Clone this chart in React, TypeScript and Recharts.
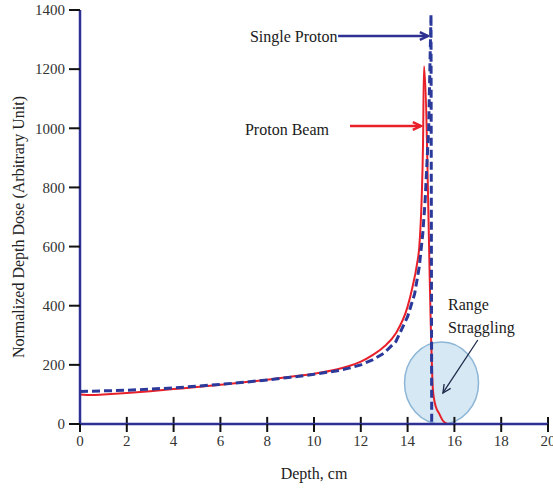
import { LineChart, Line, XAxis, YAxis, ReferenceDot, ReferenceLine, Label } from 'recharts';

// Proton Beam (red, solid)
const beamDepth = [0, 0.5, 1, 2, 3, 4, 5, 6, 7, 8, 9, 10, 11, 11.5, 12, 12.5, 13, 13.5, 14, 14.2, 14.4, 14.5, 14.6, 14.66, 14.7, 15.02, 15.07, 15.12, 15.2, 15.35, 15.5, 15.7];
const beamDose = [100, 98, 100, 105, 111, 118, 125, 133, 141, 150, 160, 170, 185, 196, 211, 233, 262, 307, 397, 460, 540, 600, 760, 950, 1210, 250, 130, 90, 60, 35, 12, 0];

// Single Proton (blue, dashed)
const singleDepth = [0, 1, 2, 3, 4, 5, 6, 7, 8, 9, 10, 11, 11.5, 12, 12.5, 13, 13.5, 14, 14.3, 14.5, 14.65, 14.75, 14.9, 15.0, 15.03];
const singleDose = [110, 112, 114, 118, 122, 128, 134, 141, 149, 158, 168, 180, 189, 200, 217, 240, 279, 363, 440, 532, 645, 757, 1000, 1385, 0];

const xTicks = [0, 2, 4, 6, 8, 10, 12, 14, 16, 18, 20];
const yTicks = [0, 200, 400, 600, 800, 1000, 1200, 1400];

const beamData = beamDepth.map((d, i) => ({ depth: d, dose: beamDose[i] }));
const singleData = singleDepth.map((d, i) => ({ depth: d, dose: singleDose[i] }));

const NAVY = '#2e3192';
const RED = '#e8202a';
const BLUE = '#2b3a9a';
const FONT = '"Liberation Serif", "DejaVu Serif", serif';

function arrowShape(color: string, width: number) {
  return (props: any) => {
    const { x1, y1, x2, y2 } = props;
    const a = Math.atan2(y2 - y1, x2 - x1);
    const h = 9;
    const p1 = [x2 - h * Math.cos(a - 0.45), y2 - h * Math.sin(a - 0.45)];
    const p2 = [x2 - h * Math.cos(a + 0.45), y2 - h * Math.sin(a + 0.45)];
    return (
      <g>
        <line x1={x1} y1={y1} x2={x2} y2={y2} stroke={color} strokeWidth={width} />
        <polyline points={`${p1[0]},${p1[1]} ${x2},${y2} ${p2[0]},${p2[1]}`} fill="none" stroke={color} strokeWidth={width} />
      </g>
    );
  };
}

function note(lines: string[]) {
  return (props: any) => {
    const { cx, cy } = props;
    return (
      <text x={cx} y={cy} fontSize={16} fill="#1a1a1a" fontFamily={FONT}>
        {lines.map((t, i) => (
          <tspan key={i} x={cx} dy={i === 0 ? 0 : 23}>{t}</tspan>
        ))}
      </text>
    );
  };
}

function Ellipse(props: any) {
  const { cx, cy } = props;
  if (cx == null || cy == null) return null;
  return <ellipse cx={cx} cy={cy} rx={37} ry={41} fill="#d5e8f4" stroke="#8db6d6" strokeWidth={1.5} />;
}

function YTitle(props: any) {
  const { viewBox } = props;
  const cy = viewBox.y + viewBox.height / 2 + 10;
  return (
    <text x={18} y={cy} transform={`rotate(-90, 18, ${cy})`} textAnchor="middle" dominantBaseline="central" fontSize={16} fill="#222" fontFamily={FONT}>
      Normalized Depth Dose (Arbitrary Unit)
    </text>
  );
}

export default function App() {
  return (
    <div style={{ position: 'absolute', left: 0, top: 0, background: '#fff' }}>
      <LineChart width={553} height={491} margin={{ top: 10, right: 5, bottom: 0, left: 0 }}>
        <XAxis
          dataKey="depth"
          type="number"
          domain={[0, 20]}
          ticks={xTicks}
          interval={0}
          allowDataOverflow
          tickLine={{ stroke: '#111', strokeWidth: 2 }}
          tickSize={8}
          tickMargin={3}
          tick={{ fontSize: 15, fill: '#333', fontFamily: FONT }}
          axisLine={{ stroke: NAVY, strokeWidth: 2.5 }}
          height={67}
        >
          <Label value="Depth, cm" position="insideBottom" offset={12} fontSize={16} fill="#222" fontFamily={FONT} />
        </XAxis>
        <YAxis
          type="number"
          domain={[0, 1400]}
          ticks={yTicks}
          interval={0}
          allowDataOverflow
          tickSize={11}
          tickMargin={4}
          tickLine={{ stroke: '#111', strokeWidth: 2 }}
          tick={{ fontSize: 15, fill: '#333', fontFamily: FONT }}
          axisLine={{ stroke: NAVY, strokeWidth: 2.5 }}
          width={80}
        >
          <Label content={<YTitle />} position="insideLeft" />
        </YAxis>
        <XAxis xAxisId="top" orientation="top" type="number" domain={[0, 20]} tick={false} tickLine={false} height={0} axisLine={{ stroke: NAVY, strokeWidth: 2.5 }} />
        <YAxis yAxisId="right" orientation="right" type="number" domain={[0, 1400]} tick={false} tickLine={false} width={0} axisLine={{ stroke: NAVY, strokeWidth: 2.5 }} />

        <ReferenceDot x={15.45} y={139} r={37} shape={<Ellipse />} ifOverflow="visible" zIndex={50} />

        {/* inner half of the x ticks (crossing tick marks) */}
        {xTicks.map((t) => (
          <ReferenceLine key={t} segment={[{ x: t, y: 0 }, { x: t, y: 24 }]} stroke="#111" strokeWidth={2} ifOverflow="visible" />
        ))}

        <Line data={beamData} dataKey="dose" stroke={RED} strokeWidth={2} dot={false} type="monotone" isAnimationActive={false} />
        <Line data={singleData} dataKey="dose" stroke={BLUE} strokeWidth={3} strokeDasharray="8 4" dot={false} type="linear" isAnimationActive={false} />

        <ReferenceLine segment={[{ x: 11.03, y: 1312 }, { x: 14.87, y: 1312 }]} shape={arrowShape(NAVY, 2.5)} ifOverflow="visible" />
        <ReferenceLine segment={[{ x: 11.54, y: 1008 }, { x: 14.57, y: 1008 }]} shape={arrowShape(RED, 2.5)} ifOverflow="visible" />
        <ReferenceLine segment={[{ x: 17.0, y: 284 }, { x: 15.51, y: 105 }]} shape={arrowShape('#1f2a4a', 1.3)} ifOverflow="visible" />

        <ReferenceDot x={7.26} y={1292} r={0} shape={note(['Single Proton'])} ifOverflow="visible" />
        <ReferenceDot x={7.05} y={977} r={0} shape={note(['Proton Beam'])} ifOverflow="visible" />
        <ReferenceDot x={15.73} y={385} r={0} shape={note(['Range', 'Straggling'])} ifOverflow="visible" />
      </LineChart>
    </div>
  );
}
